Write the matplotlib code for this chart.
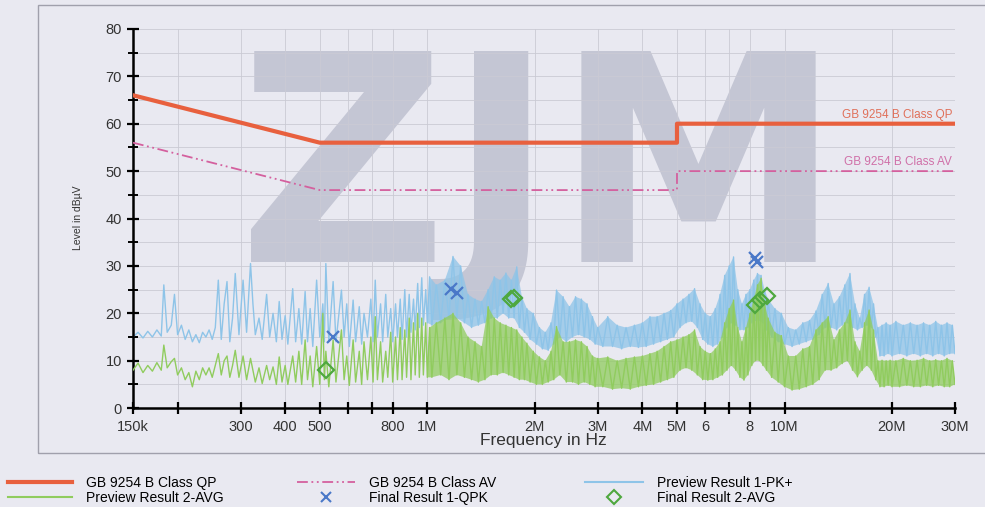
import numpy as np
import matplotlib
matplotlib.use('Agg')
import matplotlib.pyplot as plt
from matplotlib.lines import Line2D
from matplotlib.patches import Rectangle

plt.rcParams['font.family'] = ['Liberation Sans', 'DejaVu Sans']

# limit lines (MHz, dBuV)
qp_freq = [0.15, 0.5, 5.0, 5.0, 30.0]
qp_level = [66, 56, 56, 60, 60]
av_freq = [0.15, 0.5, 5.0, 5.0, 30.0]
av_level = [56, 46, 46, 50, 50]

# preview scans (peaks / valleys)
freq_mhz = [
    0.150, 0.155, 0.160, 0.165, 0.170, 0.175, 0.180, 0.183, 0.187, 0.192,
    0.196, 0.200, 0.205, 0.210, 0.215, 0.220, 0.225, 0.230, 0.235, 0.240,
    0.245, 0.250, 0.255, 0.260, 0.265, 0.270, 0.275, 0.280, 0.285, 0.290,
    0.297, 0.305, 0.312, 0.320, 0.325, 0.330, 0.338, 0.345, 0.355, 0.362,
    0.370, 0.378, 0.385, 0.392, 0.400, 0.407, 0.420, 0.428, 0.437, 0.445,
    0.455, 0.462, 0.470, 0.478, 0.490, 0.500, 0.510, 0.515, 0.520, 0.530,
    0.545, 0.555, 0.575, 0.585, 0.595, 0.605, 0.620, 0.630, 0.645, 0.655,
    0.665, 0.680, 0.695, 0.705, 0.715, 0.725, 0.740, 0.750, 0.765, 0.775,
    0.790, 0.800, 0.815, 0.825, 0.840, 0.850, 0.865, 0.875, 0.890, 0.900,
    0.915, 0.925, 0.940, 0.950, 0.965, 0.975, 0.990, 1.000, 1.015, 1.03,
    1.06, 1.09, 1.12, 1.15, 1.18, 1.21, 1.24, 1.27, 1.30, 1.33,
    1.36, 1.39, 1.42, 1.45, 1.48, 1.51, 1.54, 1.57, 1.60, 1.63,
    1.66, 1.69, 1.72, 1.75, 1.78, 1.81, 1.84, 1.87, 1.90, 1.94,
    1.98, 2.02, 2.06, 2.10, 2.14, 2.18, 2.22, 2.26, 2.30, 2.35,
    2.40, 2.45, 2.50, 2.55, 2.60, 2.65, 2.70, 2.75, 2.80, 2.85,
    2.90, 2.95, 3.00, 3.10, 3.20, 3.30, 3.40, 3.50, 3.60, 3.70,
    3.80, 3.90, 4.00, 4.10, 4.20, 4.30, 4.40, 4.50, 4.60, 4.70,
    4.80, 4.90, 5.00, 5.1, 5.2, 5.3, 5.4, 5.5, 5.6, 5.7,
    5.8, 5.9, 6.0, 6.1, 6.2, 6.3, 6.4, 6.5, 6.6, 6.7,
    6.8, 6.9, 7.0, 7.1, 7.2, 7.3, 7.4, 7.5, 7.6, 7.7,
    7.8, 7.9, 8.0, 8.1, 8.2, 8.3, 8.4, 8.5, 8.6, 8.7,
    8.8, 8.9, 9.0, 9.2, 9.4, 9.6, 9.8, 10.0, 10.25, 10.5,
    10.75, 11.0, 11.25, 11.5, 11.75, 12.0, 12.25, 12.5, 12.75, 13.0,
    13.25, 13.5, 13.75, 14.0, 14.25, 14.5, 14.75, 15.0, 15.25, 15.5,
    15.75, 16.0, 16.25, 16.5, 16.75, 17.0, 17.25, 17.5, 17.75, 18.0,
    18.25, 18.5, 18.75, 19.0, 19.25, 19.5, 19.75, 20.0, 20.5, 21.0,
    21.5, 22.0, 22.5, 23.0, 23.5, 24.0, 24.5, 25.0, 25.5, 26.0,
    26.5, 27.0, 27.5, 28.0, 28.5, 29.0, 29.5, 30.0,
]
pk_dbuv = [
    15.0, 16.0, 14.8, 16.2, 15.0, 16.5, 15.2, 26.0, 16.0, 17.5,
    24.0, 15.5, 17.5, 14.5, 16.5, 14.0, 15.5, 13.8, 16.0, 15.0,
    16.5, 14.5, 17.0, 27.0, 14.5, 22.0, 26.7, 14.0, 19.0, 28.4,
    15.5, 27.0, 16.0, 30.5, 22.0, 15.5, 19.0, 14.5, 24.0, 15.0,
    20.0, 14.0, 22.5, 14.5, 19.5, 13.5, 25.2, 14.0, 21.0, 13.5,
    24.6, 14.0, 21.0, 13.0, 27.0, 15.0, 22.0, 14.0, 30.5, 14.0,
    26.7, 14.0, 24.9, 15.0, 22.0, 13.0, 22.8, 14.0, 21.4, 13.5,
    20.0, 15.0, 23.0, 14.0, 27.0, 15.0, 22.0, 14.0, 24.0, 15.0,
    21.0, 14.0, 22.0, 15.0, 23.0, 14.5, 25.0, 15.0, 24.0, 16.0,
    23.0, 16.5, 26.3, 17.0, 27.5, 17.5, 25.0, 18.0, 27.7, 17.5,
    26.0, 18.0, 27.0, 19.0, 32.0, 19.0, 30.0, 18.0, 24.0, 17.0,
    23.0, 17.5, 22.5, 18.0, 25.0, 19.0, 27.7, 19.0, 27.0, 20.0,
    28.5, 19.0, 27.0, 19.0, 29.8, 17.0, 23.5, 16.0, 21.0, 14.5,
    20.0, 13.5, 17.0, 12.5, 16.0, 12.2, 18.0, 13.5, 24.9, 15.0,
    23.5, 14.0, 21.4, 15.0, 23.5, 15.5, 23.0, 15.0, 22.0, 14.5,
    19.3, 13.5, 17.0, 13.0, 19.3, 13.0, 17.5, 12.5, 17.0, 13.0,
    17.5, 12.8, 18.0, 13.0, 19.3, 13.5, 19.3, 14.0, 20.0, 14.5,
    20.6, 15.0, 22.0, 17.0, 23.0, 18.0, 24.0, 18.3, 25.2, 17.0,
    22.0, 14.5, 20.0, 13.5, 19.3, 13.0, 21.0, 13.5, 24.0, 15.0,
    28.0, 17.0, 30.0, 18.0, 31.9, 17.5, 25.0, 16.5, 22.0, 16.5,
    24.0, 17.0, 25.0, 18.0, 27.0, 18.5, 28.4, 18.5, 28.0, 18.0,
    24.9, 16.5, 23.0, 15.0, 21.0, 14.0, 20.0, 13.5, 17.0, 13.0,
    16.5, 13.5, 18.0, 14.0, 18.5, 14.5, 20.5, 15.5, 24.0, 17.0,
    26.3, 17.0, 22.0, 16.5, 23.5, 17.5, 26.0, 18.0, 28.4, 17.0,
    22.0, 16.5, 19.0, 17.0, 24.0, 17.5, 25.5, 17.0, 22.0, 15.0,
    17.0, 11.0, 17.5, 11.0, 18.0, 11.5, 17.5, 11.0, 18.3, 11.5,
    17.5, 11.0, 18.0, 11.5, 17.5, 11.0, 18.0, 11.5, 17.5, 11.0,
    18.3, 11.5, 17.5, 11.0, 18.0, 11.5, 17.5, 11.5,
]
avg_dbuv = [
    8.0, 9.5, 7.5, 9.0, 7.8, 9.6, 8.0, 13.3, 8.5, 9.8,
    10.5, 7.0, 8.5, 6.0, 7.5, 4.5, 7.8, 6.0, 8.5, 7.0,
    8.5, 6.5, 9.0, 11.5, 7.0, 10.0, 11.0, 6.5, 9.0, 12.2,
    6.5, 11.0, 6.0, 10.5, 8.0, 5.5, 8.5, 5.2, 9.0, 6.0,
    8.7, 5.0, 10.8, 5.5, 9.0, 5.0, 11.0, 5.5, 12.0, 5.0,
    14.4, 6.0, 11.0, 4.5, 13.0, 5.0, 20.0, 6.0, 12.0, 4.5,
    14.4, 5.5, 16.5, 6.0, 11.0, 4.8, 14.4, 5.5, 12.0, 5.0,
    14.0, 6.0, 15.0, 5.5, 19.3, 6.0, 14.0, 5.5, 12.0, 6.5,
    16.0, 5.5, 15.0, 6.0, 17.0, 6.0, 16.5, 6.5, 19.0, 6.0,
    18.0, 7.0, 20.0, 6.5, 19.0, 7.0, 18.0, 6.5, 17.0, 6.5,
    18.0, 7.0, 19.0, 6.0, 20.0, 7.0, 18.0, 6.5, 15.0, 6.0,
    14.0, 5.5, 13.0, 6.0, 21.4, 7.0, 19.0, 7.0, 18.0, 7.5,
    17.5, 7.0, 17.0, 6.5, 16.5, 6.0, 15.0, 6.0, 13.7, 5.5,
    12.0, 5.0, 10.8, 5.0, 10.0, 5.5, 12.0, 6.0, 17.2, 7.0,
    14.0, 5.5, 14.0, 5.5, 14.4, 5.0, 14.0, 5.5, 13.0, 5.0,
    11.0, 4.5, 10.5, 4.5, 10.8, 4.0, 10.0, 4.2, 10.5, 4.0,
    10.8, 4.5, 11.0, 4.8, 11.5, 5.0, 12.0, 5.5, 13.0, 6.0,
    14.0, 6.5, 14.4, 8.0, 15.0, 8.5, 15.5, 8.0, 16.5, 7.0,
    13.0, 6.0, 12.0, 5.9, 11.5, 6.0, 12.5, 6.5, 14.0, 7.0,
    18.0, 8.0, 21.0, 9.0, 22.8, 8.0, 17.0, 6.5, 14.0, 5.9,
    17.0, 7.0, 20.0, 9.0, 23.0, 10.0, 26.0, 10.0, 27.4, 9.0,
    22.0, 8.0, 19.0, 6.5, 16.0, 5.5, 15.3, 4.5, 11.0, 3.8,
    11.0, 4.0, 12.5, 4.5, 13.0, 5.0, 16.5, 6.0, 18.0, 8.0,
    19.3, 8.0, 14.4, 8.5, 16.5, 9.4, 18.0, 10.0, 20.7, 8.0,
    14.0, 6.6, 12.0, 8.0, 18.0, 9.0, 20.7, 8.0, 16.5, 6.0,
    10.0, 4.5, 10.1, 4.5, 10.0, 4.8, 10.1, 4.5, 10.0, 4.5,
    10.5, 4.8, 10.0, 4.5, 10.1, 4.5, 10.5, 4.8, 10.0, 4.5,
    10.2, 4.8, 10.0, 4.5, 10.5, 4.5, 10.0, 5.0,
]

# final measurements
qpk_freq = [0.545, 1.165, 1.21, 8.27, 8.37]
qpk_level = [15.0, 25.2, 24.3, 31.6, 30.8]
avg_final_freq = [0.52, 1.72, 1.75, 8.27, 8.54, 8.94]
avg_final_level = [8.0, 23.0, 23.2, 21.7, 22.8, 23.6]

tick_freq = [0.15, 0.2, 0.3, 0.4, 0.5, 0.6, 0.7, 0.8, 1, 2, 3, 4, 5, 6, 7, 8, 10, 20, 30]
tick_text = ['150k', '', '300', '400', '500', '', '', '800', '1M', '2M', '3M', '4M',
             '5M', '6', '', '8', '10M', '20M', '30M']

PK_C = '#8ec4e8'
AVG_C = '#90cc5e'
QP_C = '#e8603e'
AV_C = '#d4609e'
AV_LS = (0, (6, 2, 1, 2, 1, 2))


def shade_band(ax, f, v, f_start, color):
    # dense part of the sweep: fill between its peaks and its valleys
    f = np.asarray(f)
    v = np.asarray(v)
    idx = [i for i in range(1, len(f)) if f[i] >= f_start]
    hi = [i for i in idx if v[i] > v[i - 1]]
    lo = [i for i in idx if v[i] <= v[i - 1]]
    xs = list(f[hi]) + list(f[lo][::-1])
    ys = list(v[hi]) + list(v[lo][::-1])
    ax.fill(xs, ys, color=color, lw=0, alpha=0.75, zorder=2)


bg = '#e9e9f1'
fig = plt.figure(figsize=(9.85, 5.07), dpi=100, facecolor=bg)
ax = fig.add_axes([0.135, 0.195, 0.8345, 0.748])
ax.set_facecolor('none')

# watermark logo
ax.text(0.548, 0.483, 'ZJM', transform=fig.transFigure, fontsize=208,
        fontweight='bold', color='#c4c6d4', ha='center', va='baseline',
        family=['Liberation Sans Narrow', 'DejaVu Sans'], zorder=0.1, clip_on=False)

fig.patches.append(Rectangle((0.0386, 0.1065), 0.97, 0.884, transform=fig.transFigure,
                             fill=False, edgecolor='#a0a0ac', linewidth=1.0))

shade_band(ax, freq_mhz, pk_dbuv, 1.0, PK_C)
ax.plot(freq_mhz, pk_dbuv, color=PK_C, lw=1.0, zorder=2)
shade_band(ax, freq_mhz, avg_dbuv, 1.0, AVG_C)
ax.plot(freq_mhz, avg_dbuv, color=AVG_C, lw=1.0, zorder=3)
ax.plot(qp_freq, qp_level, color=QP_C, lw=3.0, zorder=4)
ax.plot(av_freq, av_level, color=AV_C, lw=1.3, ls=AV_LS, zorder=4)
ax.plot(qpk_freq, qpk_level, ls='none', marker='x', ms=8, mew=1.6, color='#4a78c8', zorder=5)
ax.plot(avg_final_freq, avg_final_level, ls='none', marker='D', ms=8, mew=1.6,
        mfc='none', mec='#4ea83e', zorder=5)

ax.text(29.5, 60.6, 'GB 9254 B Class QP', color='#e0705a', fontsize=8.5, ha='right', va='bottom')
ax.text(29.5, 50.6, 'GB 9254 B Class AV', color='#d070a8', fontsize=8.5, ha='right', va='bottom')

ax.set_xscale('log')
ax.set_xlim(0.15, 30)
ax.set_ylim(0, 80)
ax.set_xticks(tick_freq)
ax.set_xticklabels(tick_text)
ax.xaxis.set_minor_locator(matplotlib.ticker.NullLocator())
ax.set_yticks(np.arange(0, 81, 10))
ax.set_yticks(np.arange(5, 80, 10), minor=True)
ax.grid(True, which='both', color='#cacad4', lw=0.6, zorder=0.5)
for s in ['top', 'right']:
    ax.spines[s].set_visible(False)
for s in ['left', 'bottom']:
    ax.spines[s].set_linewidth(1.8)
ax.tick_params(which='major', direction='inout', length=9, width=1.6, labelsize=10.5,
               labelcolor='#333333')
ax.tick_params(which='minor', direction='inout', length=7, width=1.4)
ax.tick_params(axis='x', pad=4)

fig.text(0.552, 0.132, 'Frequency in Hz', fontsize=12.5, ha='center', va='center', color='#333333')
fig.text(0.079, 0.57, 'Level in dBµV', fontsize=7.5, rotation=90, ha='center', va='center',
         color='#333333')

# legend: three columns placed where the reference has them
col1 = [Line2D([], [], color=QP_C, lw=3.0), Line2D([], [], color=AVG_C, lw=1.5)]
col2 = [Line2D([], [], color=AV_C, lw=1.3, ls=AV_LS),
        Line2D([], [], ls='none', marker='x', ms=7, mew=1.5, color='#4a78c8')]
col3 = [Line2D([], [], color=PK_C, lw=1.5),
        Line2D([], [], ls='none', marker='D', ms=7, mew=1.5, mfc='none', mec='#4ea83e')]
lab1 = ['GB 9254 B Class QP', 'Preview Result 2-AVG']
lab2 = ['GB 9254 B Class AV', 'Final Result 1-QPK']
lab3 = ['Preview Result 1-PK+', 'Final Result 2-AVG']
for hs, ls_, x0, hl in [(col1, lab1, 0.0, 4.6), (col2, lab2, 0.293, 4.2), (col3, lab3, 0.585, 4.2)]:
    fig.legend(hs, ls_, loc='lower left', bbox_to_anchor=(x0, -0.012), frameon=False,
               fontsize=10, handlelength=hl, handletextpad=1.0, labelspacing=0.05,
               borderaxespad=0.2)

fig.savefig('out.png', dpi=100, facecolor=bg)
